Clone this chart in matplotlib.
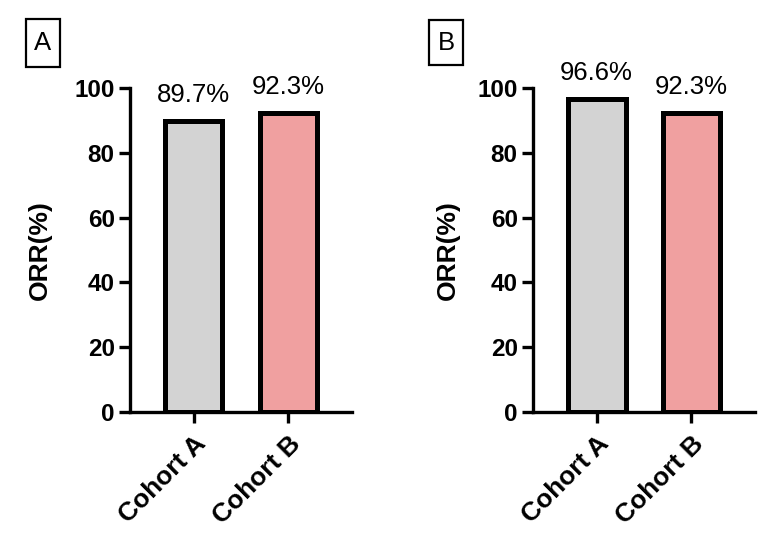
"""Bar charts of objective response rate (ORR) for two cohorts, panels A and B."""

import matplotlib
matplotlib.use("Agg")
import matplotlib.pyplot as plt
from matplotlib.patches import Rectangle

plt.rcParams['font.family'] = ['Liberation Sans', 'DejaVu Sans']

cohorts = ["Cohort A", "Cohort B"]
orr_panel_a = [89.7, 92.3]
orr_panel_b = [96.6, 92.3]
panel_labels = ["A", "B"]
bar_colors = ["#D3D3D3", "#F0A0A0"]


def draw_panel(ax, values, label, box_px, ylabel_x):
    x = range(len(cohorts))
    ax.bar(x, values, width=0.61, color=bar_colors, edgecolor="black", linewidth=3.6, zorder=2)
    for xi, v in zip(x, values):
        ax.annotate(f"{v}%", (xi, v), xytext=(0, 10), textcoords="offset points",
                    ha="center", va="bottom", fontsize=18.5)

    ax.set_xlim(-0.67, 1.67)
    ax.set_ylim(0, 100)
    ax.set_yticks([0, 20, 40, 60, 80, 100])
    ax.set_xticks(list(x))
    ax.set_xticklabels(cohorts, rotation=45, ha="right", rotation_mode="anchor",
                       fontsize=19, fontweight="bold")
    for t in ax.get_yticklabels():
        t.set_fontweight("bold")
        t.set_fontsize(17.5)
    ax.set_ylabel("ORR(%)", fontsize=19, fontweight="bold")
    ax.yaxis.set_label_coords(ylabel_x, 0.5)

    for side in ["top", "right"]:
        ax.spines[side].set_visible(False)
    for side in ["left", "bottom"]:
        ax.spines[side].set_linewidth(2.4)
    ax.tick_params(axis="both", direction="out", length=8, width=2.4, pad=3)
    ax.tick_params(axis="x", pad=6)

    # boxed panel letter, box given in pixels (left, top, right, bottom)
    l, t, r, b = box_px
    fig.patches.append(Rectangle((l / 776, 1 - b / 558), (r - l) / 776, (b - t) / 558,
                                 transform=fig.transFigure, facecolor="white",
                                 edgecolor="black", linewidth=1.6))
    fig.text((l + r) / 2 / 776, 1 - (t + b) / 2 / 558, label, fontsize=18.5,
             ha="center", va="center")


fig = plt.figure(figsize=(7.76, 5.58), dpi=100)
ax_a = fig.add_axes([130 / 776, 1 - 412 / 558, 222 / 776, 324 / 558])
ax_b = fig.add_axes([533 / 776, 1 - 412 / 558, 222 / 776, 324 / 558])

draw_panel(ax_a, orr_panel_a, panel_labels[0], (26, 19, 60, 67), -0.35)
draw_panel(ax_b, orr_panel_b, panel_labels[1], (429, 20, 463, 65), -0.33)

fig.savefig("out.png", dpi=100, facecolor="white")
